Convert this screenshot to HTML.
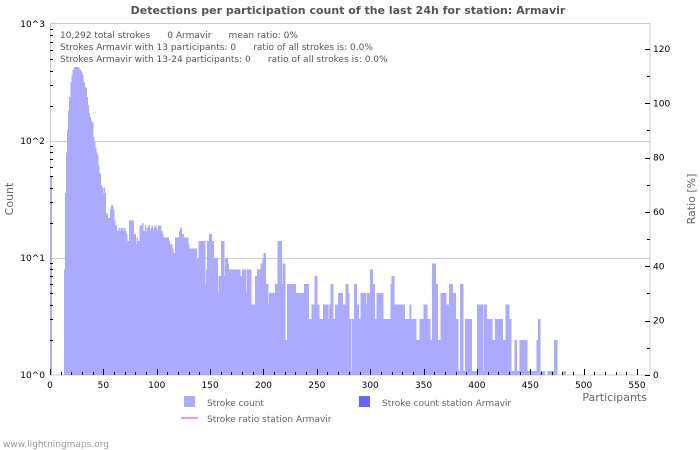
<!DOCTYPE html>
<html><head><meta charset="utf-8"><style>
body{margin:0;background:#fff;}
svg{display:block;font-family:"DejaVu Sans","Liberation Sans",sans-serif;}
</style></head><body>
<svg id="chart" width="700" height="450" viewBox="0 0 700 450" xmlns="http://www.w3.org/2000/svg">
<rect width="700" height="450" fill="#fff"/>
<text x="348" y="14" text-anchor="middle" font-size="11" font-weight="bold" fill="#555">Detections per participation count of the last 24h for station: Armavir</text>
<g id="grid"></g>
<rect x="50.5" y="23.5" width="599.5" height="351.5" fill="none" stroke="#ccc"/>
<g id="bars" shape-rendering="crispEdges"></g>
<g id="axes"></g>
<g font-size="9" fill="#555">
<text x="60" y="38">10,292 total strokes&#160;&#160;&#160;&#160;&#160;&#160;0 Armavir&#160;&#160;&#160;&#160;&#160;&#160;mean ratio: 0%</text>
<text x="60" y="50">Strokes Armavir with 13 participants: 0&#160;&#160;&#160;&#160;&#160;&#160;ratio of all strokes is: 0.0%</text>
<text x="60" y="62">Strokes Armavir with 13-24 participants: 0&#160;&#160;&#160;&#160;&#160;&#160;ratio of all strokes is: 0.0%</text>
</g>
<text transform="translate(13,199) rotate(-90)" text-anchor="middle" font-size="11" fill="#666">Count</text>
<text transform="translate(695,199) rotate(-90)" text-anchor="middle" font-size="11" fill="#666">Ratio [%]</text>
<text x="647" y="401" text-anchor="end" font-size="11" fill="#666">Participants</text>
<g font-size="9" fill="#666">
<g><rect x="184" y="396" width="11" height="11" fill="#aaaaff"/><text x="207" y="406">Stroke count</text></g>
<g><rect x="359" y="396" width="11" height="11" fill="#6666ff"/><text x="382" y="406">Stroke count station Armavir</text></g>
<g><line x1="181" y1="418" x2="198" y2="418" stroke="#ee99ee" stroke-width="2"/><text x="207" y="422">Stroke ratio station Armavir</text></g>
</g>
<text x="3" y="447" font-size="9" fill="#999">www.lightningmaps.org</text>
</svg>
<script>
const counts = [
49,0,0,0,0,0,0,0,0,0,
0,0,0,8,36,80,124,183,237,318,
366,404,420,427,427,427,427,410,404,390,
366,318,290,283,237,203,173,160,150,145,
108,98,87,80,76,62,53,42,40,36,
40,36,24,24,22,22,26,28,28,26,
21,19,17,17,18,17,18,18,17,18,
17,16,14,14,21,21,21,21,16,16,
13,15,14,14,19,19,20,17,17,19,
17,18,19,17,18,19,17,18,19,18,
17,19,19,19,17,16,15,15,15,15,
15,14,13,13,12,11,11,15,15,15,
15,17,18,16,16,15,15,15,15,13,
12,12,12,12,12,12,12,10,10,14,
14,14,14,14,14,6,8,14,14,16,
16,14,14,10,10,10,10,5,7,7,
14,14,14,7,10,10,9,8,8,8,
8,8,8,8,8,8,8,8,7,7,
8,8,8,5,8,8,8,8,3,4,
4,4,7,7,8,8,8,9,9,10,
11,11,6,6,4,5,5,5,5,5,
5,6,6,14,14,14,14,6,9,9,
2,2,6,6,6,6,6,6,6,6,
5,5,5,3,5,5,5,5,6,6,
6,6,3,3,3,4,4,4,7,7,
4,4,3,3,3,2,4,4,4,4,
3,4,4,6,6,3,3,4,4,4,
5,5,5,5,4,4,4,6,6,5,
3,3,1,3,3,6,6,4,4,3,
3,5,5,5,5,5,4,5,5,5,
8,8,6,6,3,3,5,5,5,5,
5,5,3,3,3,3,3,3,3,6,
7,7,4,4,4,4,4,4,4,4,
4,4,3,3,3,3,3,4,3,3,
3,3,3,2,2,2,3,3,3,3,
4,4,4,3,3,3,2,2,9,9,
9,6,6,2,2,2,5,5,5,5,
5,4,4,4,6,6,6,5,5,5,
3,3,1,1,6,6,6,1,1,3,
3,3,3,3,3,1,1,1,1,1,
4,4,4,4,4,1,4,4,4,3,
3,3,3,3,2,2,2,3,3,3,
3,3,3,3,2,2,2,4,4,4,
3,3,1,1,1,2,2,1,1,1,
2,2,2,2,2,2,2,1,1,1,
1,1,1,1,1,1,2,3,3,1,
1,1,1,0,0,0,1,1,1,1,
1,1,2,2,2,0,0,0,0,0,
1,1,1
];
const xTicks = [0,50,100,150,200,250,300,350,400,450,500,550];
const yTickLabels = ["10^0","10^1","10^2","10^3"];
const y2Ticks = [0,20,40,60,80,100,120];

const NS = "http://www.w3.org/2000/svg";
const X0 = 50, PX = 1.0673, Y0 = 375, DEC = 117;
const xScale = p => X0 + p * PX;
const yScale = c => Y0 - Math.log10(c) * DEC;
const y2Scale = r => 375 - r * 2.7167;
function mk(tag, attrs, parent) {
  const e = document.createElementNS(NS, tag);
  for (const k in attrs) e.setAttribute(k, attrs[k]);
  parent.appendChild(e);
  return e;
}
const bars = document.getElementById('bars');
const grid = document.getElementById('grid');
const axes = document.getElementById('axes');

for (let d = 1; d <= 2; d++) {
  const g = mk('line', {x1: 50, x2: 650, y1: Y0 - d * DEC + 0.5, y2: Y0 - d * DEC + 0.5, stroke: '#ccc'}, grid);
  
  
}

counts.forEach((c, p) => {
  if (c <= 0) return;
  let top = yScale(c);
  if (Y0 - top < 4) top = Y0 - 4;
  const x = xScale(p);
  const r = mk('rect', {x: x, y: top, width: (p === 0 ? 2 : PX + 0.6), height: Y0 - top, fill: '#aaaaff'}, bars);
  
  
});

for (let v = 0; v <= 550; v += 10) {
  const major = v % 50 === 0;
  const x = Math.round(xScale(v)) + 0.5;
  mk('line', {x1: x, x2: x, y1: 375, y2: major ? 369 : 372, stroke: '#000'}, axes);
}
xTicks.forEach(v => {
  const t = mk('text', {x: xScale(v), y: 388, 'text-anchor': 'middle', 'font-size': 9, fill: '#000'}, axes);
  t.textContent = v;
  
  
});
yTickLabels.forEach((lab, i) => {
  const y = Y0 - i * DEC;
  const t = mk('text', {x: 45, y: y + 3, 'text-anchor': 'end', 'font-size': 9, fill: '#000'}, axes);
  t.textContent = lab;
  
  
  if (i < 3) {
    for (let m = 2; m <= 9; m++) {
      const yy = Math.round(y - Math.log10(m) * DEC) + 0.5;
      mk('line', {x1: 50, x2: 53, y1: yy, y2: yy, stroke: '#000'}, axes);
    }
  }
});
for (let r = 0; r <= 120; r += 10) {
  const y = Math.round(y2Scale(r)) + 0.5;
  mk('line', {x1: r % 20 === 0 ? 645 : 647, x2: 650, y1: y, y2: y, stroke: '#000'}, axes);
}
y2Ticks.forEach(r => {
  const t = mk('text', {x: 653, y: y2Scale(r) + 3, 'font-size': 9, fill: '#000'}, axes);
  t.textContent = r;
  
  
});
</script>
</body></html>
